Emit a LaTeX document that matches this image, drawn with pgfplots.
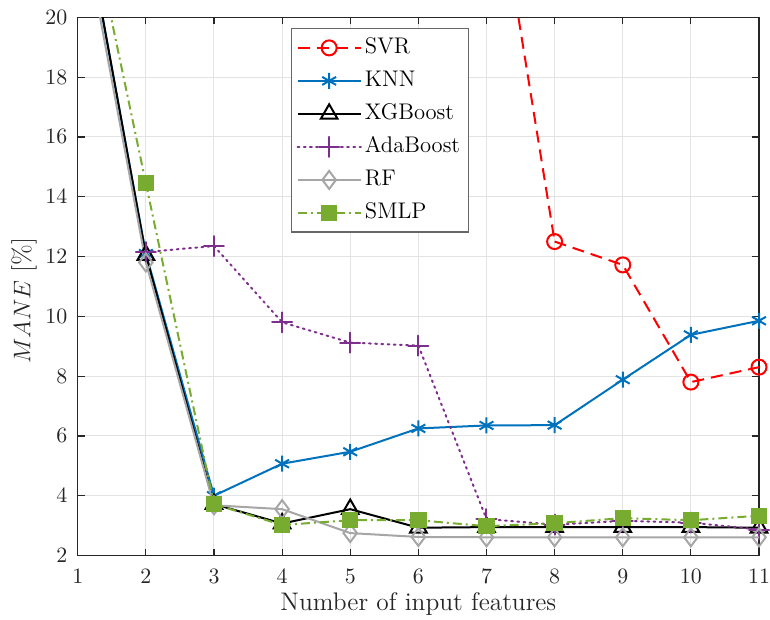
\documentclass[border=0pt]{standalone}
\usepackage{pgfplots}
\pgfplotsset{compat=1.18}
\definecolor{mblue}{rgb}{0,0.447,0.741}
\definecolor{mpurple}{rgb}{0.494,0.184,0.556}
\definecolor{mgreen}{rgb}{0.467,0.675,0.188}
\definecolor{mgray}{rgb}{0.65,0.65,0.65}
\definecolor{axgray}{rgb}{0.15,0.15,0.15}
\begin{document}
\begin{tikzpicture}
\begin{axis}[
  name=ax,
  width=340.5pt, height=269pt, scale only axis,
  xmin=1, xmax=11, ymin=2, ymax=20,
  xtick={1,...,11}, ytick={2,4,...,20},
  grid=major, major grid style={gray!22, line width=0.5pt},
  axis line style={axgray, line width=0.6pt},
  tick style={axgray, line width=0.6pt},
  tick align=inside, major tick length=3.5pt,
  xtick pos=both, ytick pos=both,
  ticklabel style={font=\fontsize{10.5}{12}\selectfont, text=axgray},
  xticklabel style={yshift=-3.5pt},
  yticklabel style={xshift=-1.7pt},
  xlabel={Number of input features},
  ylabel={$MANE$ [\%]},
  label style={font=\fontsize{12.7}{15}\selectfont, text=axgray},
  xlabel style={yshift=2.5pt},
  ylabel style={yshift=-2.5pt, xshift=-7pt},
  clip mode=individual,
  legend style={at={(0.313,0.9796)}, anchor=north west, draw=axgray!70, line width=0.6pt,
    font=\fontsize{11.3}{13}\selectfont, row sep=3.5pt, inner xsep=2.5pt, inner ysep=3pt, fill=white,
    nodes={inner ysep=1pt, inner xsep=1.6pt, text height=8.2pt, text depth=2.8pt}},
  legend cell align=left,
  legend image code/.code={\draw[mark repeat=2,mark phase=2] plot coordinates {(0cm,0cm) (0.555cm,0cm) (1.11cm,0cm)};},
]
% off-chart segments (no marks)
\addplot[red, line width=1pt, dash pattern=on 6pt off 3.5pt, forget plot]
  coordinates {(6,30) (7,26.6) (8,12.5)};
\addplot[mblue, solid, line width=1pt, forget plot] coordinates {(1,24.5) (2,12.1)};
\addplot[black, solid, line width=1pt, forget plot] coordinates {(1,24.6) (2,12.05)};
\addplot[mgray, solid, line width=1pt, forget plot] coordinates {(1,24.0) (2,11.8)};
\addplot[mgreen, dash pattern=on 4.5pt off 2pt on 1pt off 2pt, line width=1pt, forget plot] coordinates {(1,25.3) (2,14.45)};
% main series
\addplot[red, line width=1pt, dash pattern=on 6pt off 3.5pt, mark=o, mark size=3.75pt, mark options={solid}]
  coordinates {(8,12.5) (9,11.72) (10,7.8) (11,8.3)};
\addlegendentry{SVR}
\addplot[mblue, solid, line width=1pt, mark=asterisk, mark size=4pt, mark options={line width=1pt}]
  coordinates {(2,12.1) (3,4.0) (4,5.07) (5,5.47) (6,6.25) (7,6.35) (8,6.36) (9,7.88) (10,9.38) (11,9.85)};
\addlegendentry{KNN}
\addplot[black, solid, line width=1pt, mark=triangle, mark size=4.8pt, mark options={line width=1pt}]
  coordinates {(2,12.05) (3,3.72) (4,3.07) (5,3.55) (6,2.93) (7,2.95) (8,2.95) (9,2.95) (10,2.95) (11,2.93)};
\addlegendentry{XGBoost}
\addplot[mpurple, line width=1pt, dash pattern=on 0.9pt off 2.2pt, line cap=round, mark=+, mark size=5pt, mark options={solid, line width=1pt}]
  coordinates {(2,12.15) (3,12.35) (4,9.8) (5,9.12) (6,9.02) (7,3.22) (8,3.03) (9,3.16) (10,3.1) (11,2.87)};
\addlegendentry{AdaBoost}
\addplot[mgray, solid, line width=1pt, mark=diamond, mark size=4.5pt, mark options={line width=1pt}]
  coordinates {(2,11.8) (3,3.68) (4,3.55) (5,2.75) (6,2.62) (7,2.61) (8,2.61) (9,2.61) (10,2.61) (11,2.61)};
\addlegendentry{RF}
\addplot[mgreen, dash pattern=on 4.5pt off 2pt on 1pt off 2pt, line width=1pt, mark=square*, mark size=3.6pt, mark options={solid}]
  coordinates {(2,14.45) (3,3.72) (4,3.02) (5,3.18) (6,3.18) (7,2.98) (8,3.08) (9,3.25) (10,3.18) (11,3.33)};
\addlegendentry{SMLP}
\end{axis}
\pgfresetboundingbox
\path ([xshift=-38.85pt,yshift=-32pt]ax.south west) rectangle ([xshift=5.5pt,yshift=8.65pt]ax.north east);
\end{tikzpicture}
\end{document}
